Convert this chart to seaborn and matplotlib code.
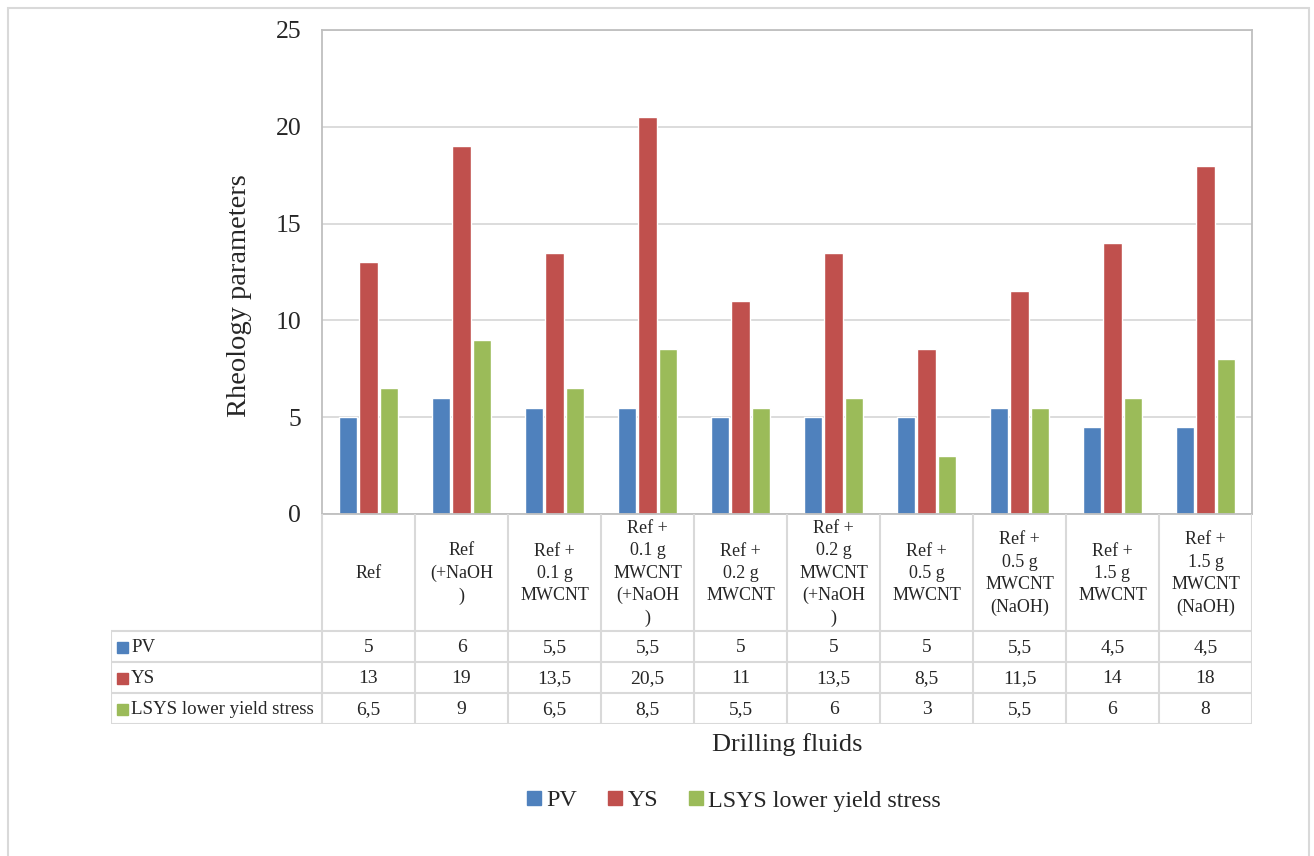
import matplotlib
matplotlib.use("Agg")
import matplotlib.pyplot as plt
import seaborn as sns
import pandas as pd
from matplotlib.patches import Rectangle

fluids = ["Ref", "Ref\n(+NaOH\n)", "Ref +\n0.1 g\nMWCNT", "Ref +\n0.1 g\nMWCNT\n(+NaOH\n)",
          "Ref +\n0.2 g\nMWCNT", "Ref +\n0.2 g\nMWCNT\n(+NaOH\n)", "Ref +\n0.5 g\nMWCNT",
          "Ref +\n0.5 g\nMWCNT\n(NaOH)", "Ref +\n1.5 g\nMWCNT", "Ref +\n1.5 g\nMWCNT\n(NaOH)"]
series = ["PV", "YS", "LSYS lower yield stress"]
pv = [5, 6, 5.5, 5.5, 5, 5, 5, 5.5, 4.5, 4.5]
ys = [13, 19, 13.5, 20.5, 11, 13.5, 8.5, 11.5, 14, 18]
lsys = [6.5, 9, 6.5, 8.5, 5.5, 6, 3, 5.5, 6, 8]
colors = ["#4F81BD", "#C0504D", "#9BBB59"]

rows = []
for name, vals in zip(series, [pv, ys, lsys]):
    for f, v in zip(fluids, vals):
        rows.append({"fluid": f, "param": name, "value": v})
df = pd.DataFrame(rows)

sns.set_style("white")
plt.rcParams['font.family'] = ['Liberation Serif', 'DejaVu Serif']

W, H = 1314, 856
fig = plt.figure(figsize=(W / 100, H / 100), dpi=100)
grid_c = "#D9D9D9"
line_c = "#BFBFBF"

def px(x0, y0, x1, y1):
    return [x0 / W, 1 - y1 / H, (x1 - x0) / W, (y1 - y0) / H]

# outer frame
fig.patches.append(Rectangle((8 / W, -0.05), (1309 - 8) / W, 1 - 8 / H + 0.05,
                             transform=fig.transFigure, fill=False, ec="#D9D9D9", lw=1.5))

ax = fig.add_axes(px(322, 30, 1252, 514))
sns.barplot(data=df, x="fluid", y="value", hue="param", palette=colors,
            width=0.668, gap=0.12, ax=ax, legend=False, saturation=1,
            errorbar=None)
ax.set_ylim(0, 25)
ax.set_xlim(-0.5, len(fluids) - 0.5)
ax.set_yticks(range(0, 26, 5))
ax.tick_params(axis="y", labelsize=18.5, length=0, pad=15)
ax.set_xticks([])
ax.set_xlabel("")
ax.set_ylabel("")
ax.yaxis.grid(True, color=grid_c, lw=1.3)
ax.set_axisbelow(True)
for s in ["left", "right", "top", "bottom"]:
    ax.spines[s].set_color(line_c)
    ax.spines[s].set_linewidth(1.3)

fig.text(240 / W, 1 - 296 / H, "Rheology parameters", rotation=90,
         ha="center", va="center", fontsize=20.5)

# data table below the plot
tx = fig.add_axes(px(111, 514, 1252, 724))
tx.set_xlim(111, 1252)
tx.set_ylim(724, 514)
tx.axis("off")
col_w = (1252 - 322) / len(fluids)
row_y = [514, 631, 662, 693, 724]
for i in range(len(fluids) + 1):
    x = 322 + i * col_w
    tx.plot([x, x], [514, 724], color=grid_c, lw=1.5)
tx.plot([111, 111], [631, 724], color=grid_c, lw=1.5)
for y in row_y[1:]:
    tx.plot([111, 1252], [y, y], color=grid_c, lw=1.5)

for i, f in enumerate(fluids):
    cx = 322 + (i + 0.5) * col_w
    tx.text(cx, (514 + 631) / 2 + 1, f, ha="center", va="center", fontsize=13,
            linespacing=1.42)
for r, (name, vals) in enumerate(zip(series, [pv, ys, lsys])):
    cy = (row_y[r + 1] + row_y[r + 2]) / 2
    tx.add_patch(Rectangle((117, cy - 5), 11, 11, color=colors[r]))
    tx.text(131, cy + 1, name, ha="left", va="center", fontsize=13.6)
    for i, v in enumerate(vals):
        cx = 322 + (i + 0.5) * col_w
        tx.text(cx, cy + 1, f"{v:g}".replace(".", ","), ha="center", va="center",
                fontsize=14)

fig.text(787 / W, 1 - 745 / H, "Drilling fluids", ha="center", va="center", fontsize=19)

handles = [Rectangle((0, 0), 1, 1, color=c) for c in colors]
fig.legend(handles, series, loc="center", bbox_to_anchor=(734 / W, 1 - 801 / H),
           ncol=3, frameon=False, fontsize=17.3, handlelength=0.58, handleheight=0.58,
           handletextpad=0.22, columnspacing=1.3)

fig.savefig("out.png", dpi=100)
